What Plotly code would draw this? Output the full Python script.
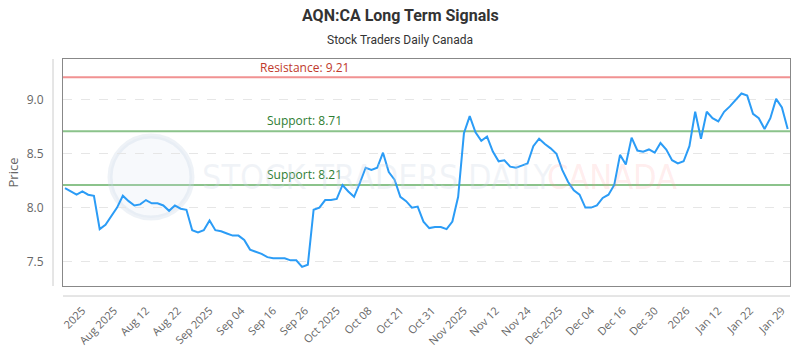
import plotly.graph_objects as go

# ---- data ----
prices = [
    8.18, 8.15, 8.12, 8.15, 8.12, 8.11, 7.80, 7.84, 7.92, 8.00,
    8.11, 8.06, 8.02, 8.03, 8.07, 8.04, 8.04, 8.02, 7.97, 8.02,
    7.99, 7.98, 7.79, 7.77, 7.79, 7.88, 7.79, 7.78, 7.76, 7.74,
    7.74, 7.70, 7.61, 7.59, 7.57, 7.54, 7.53, 7.53, 7.53, 7.51,
    7.51, 7.45, 7.47, 7.98, 8.00, 8.07, 8.07, 8.08, 8.21, 8.15,
    8.10, 8.23, 8.37, 8.35, 8.37, 8.51, 8.33, 8.26, 8.10, 8.06,
    8.00, 8.01, 7.87, 7.81, 7.82, 7.82, 7.80, 7.87, 8.10, 8.69,
    8.85, 8.70, 8.62, 8.66, 8.52, 8.43, 8.44, 8.38, 8.37, 8.39,
    8.41, 8.57, 8.64, 8.59, 8.55, 8.50, 8.35, 8.24, 8.16, 8.12,
    8.00, 8.00, 8.02, 8.09, 8.12, 8.21, 8.49, 8.40, 8.65, 8.53,
    8.52, 8.54, 8.51, 8.60, 8.54, 8.44, 8.41, 8.43, 8.57, 8.89,
    8.64, 8.89, 8.83, 8.80, 8.89, 8.94, 9.00, 9.06, 9.04, 8.87,
    8.83, 8.73, 8.83, 9.01, 8.93, 8.73,
]
tick_labels = [
    "2025", "Aug 2025", "Aug 12", "Aug 22", "Sep 2025", "Sep 04", "Sep 16",
    "Sep 26", "Oct 2025", "Oct 08", "Oct 21", "Oct 31", "Nov 2025", "Nov 12",
    "Nov 24", "Dec 2025", "Dec 04", "Dec 16", "Dec 30", "2026", "Jan 12",
    "Jan 22", "Jan 29",
]
resistance = [9.21]
supports = [8.71, 8.21]
y_ticks = [7.5, 8.0, 8.5, 9.0]

x_idx = list(range(len(prices)))
tick_pos = [3.0 + 5.5 * k for k in range(len(tick_labels))]

fig = go.Figure()
fig.add_trace(go.Scatter(
    x=x_idx, y=prices, mode="lines",
    line=dict(color="#2b9cf6", width=2),
    hoverinfo="skip", showlegend=False,
))

# support / resistance
for r in resistance:
    fig.add_shape(type="line", xref="paper", x0=0, x1=1, yref="y", y0=r, y1=r,
                  line=dict(color="rgba(236,110,110,0.75)", width=2), layer="below")
    fig.add_annotation(xref="paper", x=(258 - 63) / 727, yref="y", y=r,
                       text=f"Resistance: {r:.2f}", showarrow=False,
                       xanchor="left", yanchor="bottom", yshift=-1,
                       font=dict(family="Open Sans", size=12, color="#c0392b"))
for s in supports:
    fig.add_shape(type="line", xref="paper", x0=0, x1=1, yref="y", y0=s, y1=s,
                  line=dict(color="rgba(90,170,90,0.7)", width=2), layer="below")
    fig.add_annotation(xref="paper", x=(265 - 63) / 727, yref="y", y=s,
                       text=f"Support: {s:.2f}", showarrow=False,
                       xanchor="left", yanchor="bottom", yshift=0,
                       font=dict(family="Open Sans", size=12, color="#2e7d32"))

# watermark
fig.add_shape(type="circle", xref="paper", yref="paper",
              x0=(110 - 63) / 727, x1=(192 - 63) / 727,
              y0=(286 - 218) / 227, y1=(286 - 136) / 227,
              line=dict(color="rgba(200,212,230,0.3)", width=5),
              fillcolor="rgba(215,225,240,0.2)", layer="below")
fig.add_annotation(xref="paper", yref="paper", x=(200 - 63) / 727, y=(286 - 177) / 227,
                   text="STOCK TRADERS DAILY", showarrow=False, xanchor="left",
                   font=dict(family="DejaVu Sans Condensed", size=34,
                             color="rgba(205,214,228,0.28)"))
fig.add_annotation(xref="paper", yref="paper", x=(545 - 63) / 727, y=(286 - 177) / 227,
                   text="CANADA", showarrow=False, xanchor="left",
                   font=dict(family="DejaVu Sans Condensed", size=34,
                             color="rgba(255,150,150,0.18)"))

# titles
fig.add_annotation(xref="paper", yref="paper", x=(400 - 63) / 727, y=1 + (59 - 15) / 227,
                   text="<b>AQN:CA Long Term Signals</b>", showarrow=False,
                   xanchor="center", yanchor="middle",
                   font=dict(family="Roboto", size=16, color="#333333"))
fig.add_annotation(xref="paper", yref="paper", x=(400 - 63) / 727, y=1 + (59 - 40) / 227,
                   text="Stock Traders Daily Canada", showarrow=False,
                   xanchor="center", yanchor="middle",
                   font=dict(family="Roboto", size=12, color="#333333"))

# extra axis lines
fig.add_shape(type="line", xref="paper", yref="paper",
              x0=(53 - 63) / 727, x1=(53 - 63) / 727, y0=0, y1=1,
              line=dict(color="#cccccc", width=1))
fig.add_shape(type="line", xref="paper", yref="paper",
              x0=0, x1=1, y0=(286 - 296) / 227, y1=(286 - 296) / 227,
              line=dict(color="#cccccc", width=1))

fig.update_layout(
    width=800, height=350,
    margin=dict(l=63, r=10, t=59, b=64, autoexpand=False),
    paper_bgcolor="white", plot_bgcolor="white",
    font=dict(family="Open Sans", size=12, color="#666666"),
    xaxis=dict(
        range=[-0.35, 125.4], tickmode="array", tickvals=tick_pos, ticktext=tick_labels,
        tickangle=-45, showgrid=False, zeroline=False, automargin=False,
        showline=True, mirror=True, linecolor="#888888", linewidth=1,
        ticks="", ticklabelstandoff=13,
        tickfont=dict(family="Open Sans", size=11, color="#666666"),
    ),
    yaxis=dict(
        range=[7.272, 9.38], tickmode="array", tickvals=y_ticks,
        ticktext=[f"{v:.1f}" for v in y_ticks], automargin=False,
        showgrid=True, gridcolor="#e6e6e6", griddash="dash", zeroline=False,
        showline=True, mirror=True, linecolor="#888888", linewidth=1,
        ticks="", ticklabelstandoff=16,
        title=dict(text="Price", standoff=5, font=dict(family="Open Sans", size=13, color="#666666")),
        tickfont=dict(family="Open Sans", size=12, color="#666666"),
    ),
)

fig.write_html("out.html")
